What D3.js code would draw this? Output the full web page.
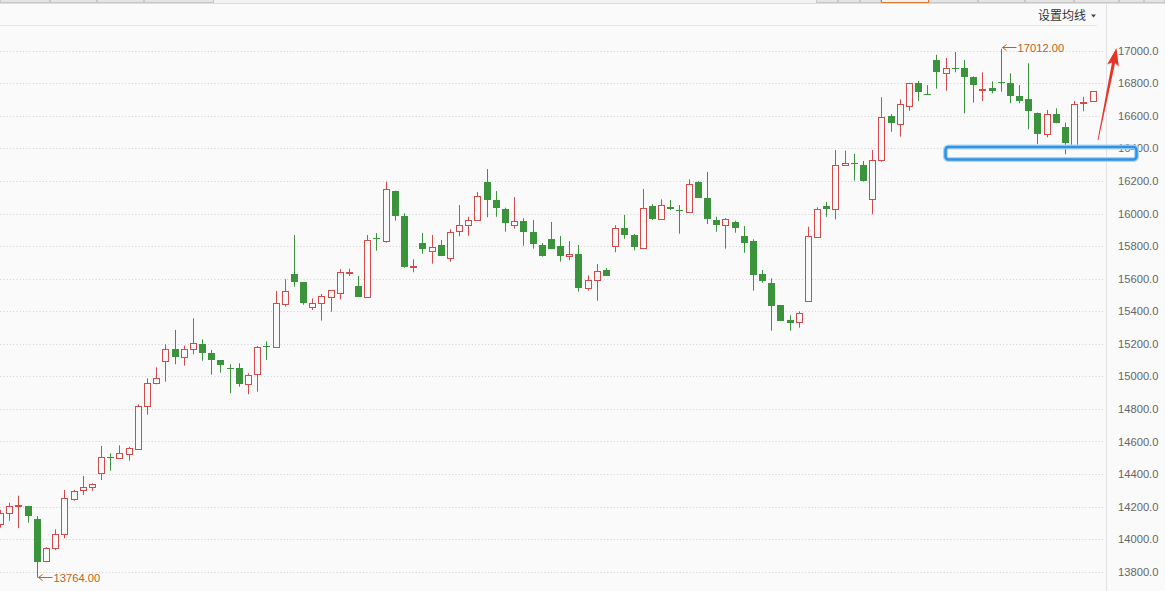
<!DOCTYPE html>
<html><head><meta charset="utf-8">
<script src="https://cdn.jsdelivr.net/npm/d3@7/dist/d3.min.js"></script>
<style>html,body{margin:0;padding:0;background:#fafafa;overflow:hidden}svg{display:block}</style>
</head><body>
<svg id="c" width="1165" height="591"></svg>
<script>
const opens  = [14093,14159,14204,14205,14124,13866,13944,14030,14245,14302,14318,14408,14505,14500,14525,14552,14816,14957,15096,15166,15117,15166,15198,15143,15100,15053,15049,14951,15012,15186,15178,15442,15628,15579,15428,15448,15489,15510,15637,15555,15489,15847,15833,16138,15985,15671,15817,15768,15805,15729,15891,15928,15960,16194,16081,16026,15928,15954,15885,15805,15842,15800,15737,15751,15541,15592,15653,15799,15909,15866,15790,16046,15964,16038,16022,16011,16194,16095,15960,15928,15948,15862,15831,15627,15571,15438,15346,15332,15461,15858,16046,16026,16296,16312,16296,16087,16327,16597,16548,16658,16800,16734,16943,16865,16894,16892,16837,16761,16771,16810,16803,16722,16703,16617,16488,16609,16530,16421,16680,16693];
const highs  = [14180,14224,14267,14205,14142,13951,14060,14302,14302,14388,14343,14572,14527,14576,14568,14828,14988,15055,15197,15285,15188,15356,15227,15162,15100,15074,15080,15019,15186,15215,15524,15596,15868,15579,15479,15506,15530,15659,15661,15616,15868,15880,16195,16140,16001,15719,15880,15868,15837,15903,16052,15980,16132,16273,16138,16036,16101,15971,15960,15819,15948,15862,15831,15807,15620,15690,15665,15928,15991,15874,16151,16058,16087,16083,16052,16210,16200,16255,15980,15972,15956,15923,15842,15653,15602,15438,15375,15399,15919,16038,16071,16390,16386,16366,16323,16390,16714,16611,16701,16803,16814,16789,16975,16955,16992,16943,16843,16867,16812,17012,16861,16789,16923,16620,16636,16646,16558,16691,16717,16752];
const lows   = [14070,14113,14067,14101,13764,13858,13933,14005,14236,14271,14297,14363,14420,14494,14482,14552,14764,14951,14967,15074,15065,15135,15096,15010,15022,14896,14936,14890,14906,15100,15178,15428,15550,15440,15407,15342,15397,15473,15616,15489,15489,15772,15821,15956,15667,15639,15753,15692,15741,15704,15860,15864,15954,15977,15980,15888,15907,15802,15784,15735,15784,15704,15713,15520,15526,15464,15618,15762,15845,15774,15786,15960,15964,16022,15876,16011,16097,15936,15888,15784,15882,15759,15526,15575,15280,15342,15280,15299,15461,15858,15980,15964,16296,16202,16196,15995,16318,16502,16472,16631,16691,16728,16767,16754,16867,16615,16681,16691,16738,16748,16677,16677,16517,16427,16468,16554,16364,16421,16628,16693];
const closes = [14159,14204,14210,14144,13861,13944,14030,14251,14296,14318,14337,14503,14500,14527,14558,14816,14957,14988,15166,15120,15166,15205,15145,15102,15071,15049,14955,15006,15178,15182,15448,15524,15581,15452,15448,15493,15530,15639,15641,15489,15835,15843,16149,15987,15673,15675,15782,15792,15741,15886,15928,15958,16106,16085,16036,15940,15952,15885,15815,15741,15784,15741,15749,15544,15592,15645,15618,15909,15870,15796,16032,15966,16050,16028,16018,16181,16097,15966,15931,15964,15913,15821,15622,15587,15434,15342,15329,15387,15862,16026,16028,16296,16308,16308,16202,16327,16595,16554,16671,16800,16748,16730,16869,16892,16890,16837,16787,16765,16754,16800,16724,16693,16631,16488,16609,16554,16435,16673,16686,16752];
const yTicks = [13800,14000,14200,14400,14600,14800,15000,15200,15400,15600,15800,16000,16200,16400,16600,16800,17000];
const menuLabel = "设置均线";

const RED = "#d24a4a", GREEN = "#3b943b", BG = "#fafafa", ORANGE = "#c0611a";
const svg = d3.select("#c");
const idx = d3.range(opens.length);
const x = d3.scalePoint().domain(idx).range([0.1, 0.1 + 9.18*(opens.length-1)]);
const y = d3.scaleLinear().domain([13800,17000]).range([571.7,50.7]);

// top tab strip
svg.append("rect").attr("x",0).attr("y",0).attr("width",1165).attr("height",3).attr("fill","#f2f2f2");
[[0,50],[50,97],[97,144],[144,214],[816,838],[838,860],[860,881],[929,978],[978,1025],[1025,1074],[1074,1119],[1119,1144],[1144,1165]].forEach(t=>{
  svg.append("rect").attr("x",t[0]+0.5).attr("y",-1).attr("width",t[1]-t[0]-1).attr("height",3.5).attr("fill","#e4e4e4").attr("stroke","#c8c8c8");
});
svg.append("rect").attr("x",881.5).attr("y",-1).attr("width",47).attr("height",3.5).attr("fill","#f0f0f0").attr("stroke","#e07a2a");
svg.append("line").attr("x1",0).attr("x2",1165).attr("y1",3.5).attr("y2",3.5).attr("stroke","#dcdcdc");
svg.append("line").attr("x1",0).attr("x2",1097).attr("y1",25.5).attr("y2",25.5).attr("stroke","#e6e6e6");
svg.append("line").attr("x1",1106.5).attr("x2",1106.5).attr("y1",4).attr("y2",591).attr("stroke","#e3e3e3");

// menu label
svg.append("text").attr("x",1038).attr("y",20).attr("font-family","'Noto Sans CJK SC'").attr("font-size",12).attr("fill","#333").text(menuLabel);
svg.append("path").attr("d","M1091,14.5 L1096,14.5 L1093.5,17.5 Z").attr("fill","#444");

// grid + axis labels
const gridG = svg.append("g");
yTicks.forEach(v=>{
  const yy = Math.round(y(v))+0.5;
  gridG.append("line").attr("x1",0).attr("x2",1105).attr("y1",yy).attr("y2",yy)
    .attr("stroke","#cfcfcf").attr("stroke-dasharray","1,2.3");
});
const axis = d3.axisRight(y).tickValues(yTicks).tickFormat(d3.format(".1f")).tickSize(0).tickPadding(0);
const ag = svg.append("g").attr("transform","translate(1118,0)").call(axis);
ag.select(".domain").remove();
ag.selectAll("text").attr("font-family","'Liberation Sans'").attr("font-size",11.2).attr("fill","#666");

// candles
const cg = svg.append("g");
idx.forEach(i=>{
  const o=opens[i], c=closes[i], h=highs[i], l=lows[i];
  const up = c>=o;
  const col = up?RED:GREEN;
  const cx = Math.round(x(i))+0.5;
  const top = y(Math.max(o,c)), bot = y(Math.min(o,c));
  cg.append("line").attr("x1",cx).attr("x2",cx).attr("y1",y(h)).attr("y2",y(l)).attr("stroke",col).attr("stroke-width",1);
  if (up) {
    const t = Math.round(top)+0.5, b = Math.max(Math.round(bot)+0.5, t+1);
    cg.append("rect").attr("x",cx-3).attr("y",t).attr("width",6).attr("height",b-t)
      .attr("fill",BG).attr("stroke",col).attr("stroke-width",1);
  } else {
    const t = Math.round(top), b = Math.max(Math.round(bot), t+1);
    cg.append("rect").attr("x",cx-3.5).attr("y",t).attr("width",7).attr("height",b-t).attr("fill",col);
  }
});

// max / min labels
const maxI = d3.maxIndex(highs), minI = d3.minIndex(lows);
function marker(i, v, yy){
  const ax = Math.round(x(i))+1.5;
  const g = svg.append("g").attr("stroke",ORANGE).attr("fill","none").attr("stroke-width",1);
  g.append("line").attr("x1",ax).attr("x2",ax+14).attr("y1",yy).attr("y2",yy);
  g.append("path").attr("d",`M${ax+4},${yy-3} L${ax},${yy} L${ax+4},${yy+3}`);
  svg.append("text").attr("x",ax+15).attr("y",yy+4).attr("font-family","'Liberation Sans'").attr("font-size",11.2)
    .attr("fill",ORANGE).text(d3.format(".2f")(v));
}
marker(maxI, highs[maxI], 47.5);
marker(minI, lows[minI], 577.5);

// blue highlight box
svg.append("rect").attr("x",945.5).attr("y",147).attr("width",191).attr("height",12.5).attr("rx",3)
  .attr("fill","none").attr("stroke","#aad4f6").attr("stroke-width",5);
svg.append("rect").attr("x",945.5).attr("y",147).attr("width",191).attr("height",12.5).attr("rx",3)
  .attr("fill","none").attr("stroke","#2f92e4").attr("stroke-width",2.5);

// red arrow
(function(){
  const tail=[1098,140], tip=[1116.5,48];
  const dx=tip[0]-tail[0], dy=tip[1]-tail[1], L=Math.hypot(dx,dy);
  const u=[dx/L,dy/L], n=[-u[1],u[0]];
  const P=(base,d,w)=>[base[0]+u[0]*d+n[0]*w, base[1]+u[1]*d+n[1]*w];
  const neckD=L-15, baseD=L-18;
  const pts=[P(tail,0,-0.4),P(tail,neckD,-1.6),P(tail,baseD,-6),tip,P(tail,baseD,6),P(tail,neckD,1.6),P(tail,0,0.4)];
  svg.append("path").attr("d","M"+pts.map(p=>p[0].toFixed(1)+","+p[1].toFixed(1)).join(" L")+" Z").attr("fill","#e53528");
})();
</script>
</body></html>
